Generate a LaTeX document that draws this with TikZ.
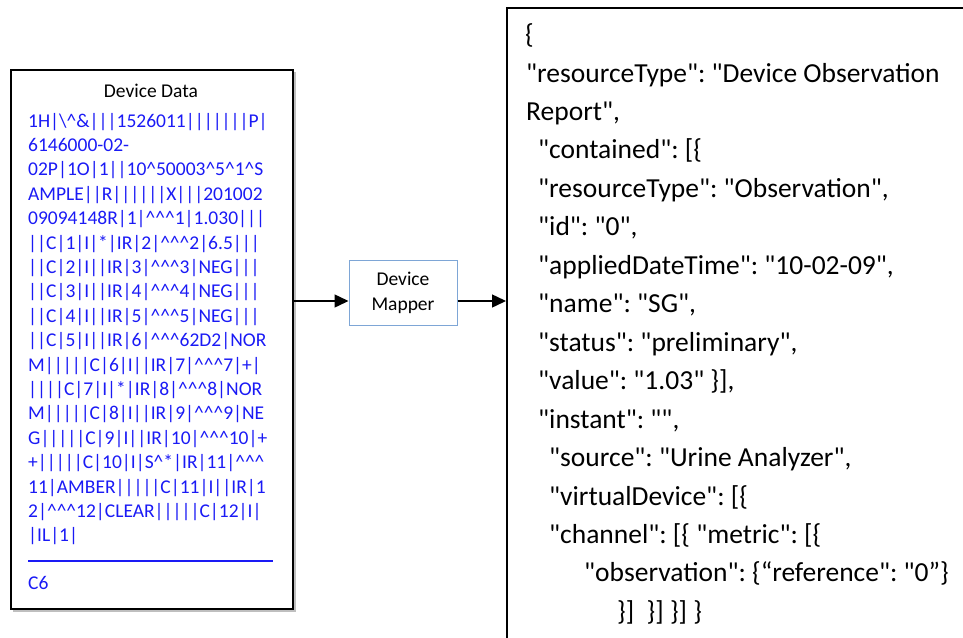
\documentclass[tikz,border=0pt]{standalone}
\usepackage{fontspec}
\setmainfont{Carlito}[Ligatures=TeXOff]
\usetikzlibrary{arrows.meta,calc}
\newcommand\crt{\textasciicircum}
\definecolor{datablue}{RGB}{26,26,245}
\definecolor{mapborder}{RGB}{126,166,214}
\frenchspacing

\begin{document}
\begin{tikzpicture}[x=1pt,y=-1pt,
  dline/.style={anchor=base west, inner sep=0pt, text=datablue, font=\fontsize{19.5}{24}\selectfont},
  jline/.style={anchor=base west, inner sep=0pt, font=\fontsize{27.5}{32}\selectfont},
  panel/.style={draw, anchor=north west, inner sep=0pt},
  flow/.style={-{Triangle[length=14pt,width=13pt]}, line width=1.5pt}]
\useasboundingbox (0,0) rectangle (963,637);
\clip (0,0) rectangle (963,637);

% ---- device data panel ----
\node (data) [panel, line width=1.5pt, minimum width=282pt, minimum height=539pt] at (10,69) {};
\draw[gray!50, line width=1.5pt] ($(data.north east)+(1.5,3)$) -- ($(data.south east)+(1.5,1.5)$) -- ($(data.south west)+(3,1.5)$);
\node (title) [anchor=base, inner sep=0pt, font=\fontsize{19.5}{24}\selectfont] at (151,97) {Device Data};
\node (d1)  [dline] at (28,127)   {1H|\textbackslash\crt\&|||1526011|||||||P|};
\node (d2)  [dline] at (28,151.4) {6146000-02-};
\node (d3)  [dline] at (28,175.8) {02P|1O|1||10\crt50003\crt5\crt1\crt S};
\node (d4)  [dline] at (28,200.2) {AMPLE||R||||||X|||201002};
\node (d5)  [dline] at (28,224.6) {09094148R|1|\crt\crt\crt1|1.030|||};
\node (d6)  [dline] at (28,249)   {||C|1|I|*|IR|2|\crt\crt\crt2|6.5|||};
\node (d7)  [dline] at (28,273.4) {||C|2|I||IR|3|\crt\crt\crt3|NEG|||};
\node (d8)  [dline] at (28,297.8) {||C|3|I||IR|4|\crt\crt\crt4|NEG|||};
\node (d9)  [dline] at (28,322.2) {||C|4|I||IR|5|\crt\crt\crt5|NEG|||};
\node (d10) [dline] at (28,346.6) {||C|5|I||IR|6|\crt\crt\crt62D2|NOR};
\node (d11) [dline] at (28,371)   {M|||||C|6|I||IR|7|\crt\crt\crt7|+|};
\node (d12) [dline] at (28,395.4) {||||C|7|I|*|IR|8|\crt\crt\crt8|NOR};
\node (d13) [dline] at (28,419.8) {M|||||C|8|I||IR|9|\crt\crt\crt9|NE};
\node (d14) [dline] at (28,444.2) {G|||||C|9|I||IR|10|\crt\crt\crt10|+};
\node (d15) [dline] at (28,468.6) {+|||||C|10|I|S\crt*|IR|11|\crt\crt\crt};
\node (d16) [dline] at (28,493)   {11|AMBER|||||C|11|I||IR|1};
\node (d17) [dline] at (28,517.4) {2|\crt\crt\crt12|CLEAR|||||C|12|I|};
\node (d18) [dline] at (28,541.8) {|IL|1|};
\coordinate (ruleL) at (28,561);
\coordinate (ruleR) at (273,561);
\draw[datablue, line width=2pt] (ruleL) -- (ruleR);
\node (d19) [dline] at (28,589) {C6};

% ---- mapper ----
\node (map) [draw=mapborder, line width=1pt, minimum width=108pt, minimum height=65pt, inner sep=0pt,
  align=center, font=\fontsize{19.5}{25}\selectfont] at (403,293) {Device\\Mapper};

% ---- output document panel ----
\node (json) [panel, line width=1.8pt, minimum width=480pt, minimum height=650pt] at (506,7) {};
\node (j1)  [jline] at (525,43.5)  {\{};
\node (j2)  [jline] at (526,82)    {"resourceType": "Device Observation};
\node (j3)  [jline] at (526,120.5) {Report",};
\node (j4)  [jline] at (538,158.9) {"contained": [\{};
\node (j5)  [jline] at (538,197.4) {"resourceType": "Observation",};
\node (j6)  [jline] at (538,235.8) {"id": "0",};
\node (j7)  [jline] at (538,274.3) {"appliedDateTime": "10-02-09",};
\node (j8)  [jline] at (538,312.7) {"name": "SG",};
\node (j9)  [jline] at (538,351.2) {"status": "preliminary",};
\node (j10) [jline] at (538,389.6) {"value": "1.03" \}],};
\node (j11) [jline] at (538,428.1) {"instant": "",};
\node (j12) [jline] at (549,466.5) {"source": "Urine Analyzer",};
\node (j13) [jline] at (549,505)   {"virtualDevice": [\{};
\node (j14) [jline] at (549,543.4) {"channel": [\{ "metric": [\{};
\node (j15) [jline] at (584,581.9) {"observation": \{“reference": "0”\}};
\node (j16) [jline] at (617,620.3) {\}]\ \ \}] \}] \}};

% ---- connectors ----
\coordinate (lvl) at (0,301);
\draw[flow] (data.east |- lvl) -- (map.west |- lvl);
\draw[flow] (map.east |- lvl) -- (json.west |- lvl);
\end{tikzpicture}
\end{document}
